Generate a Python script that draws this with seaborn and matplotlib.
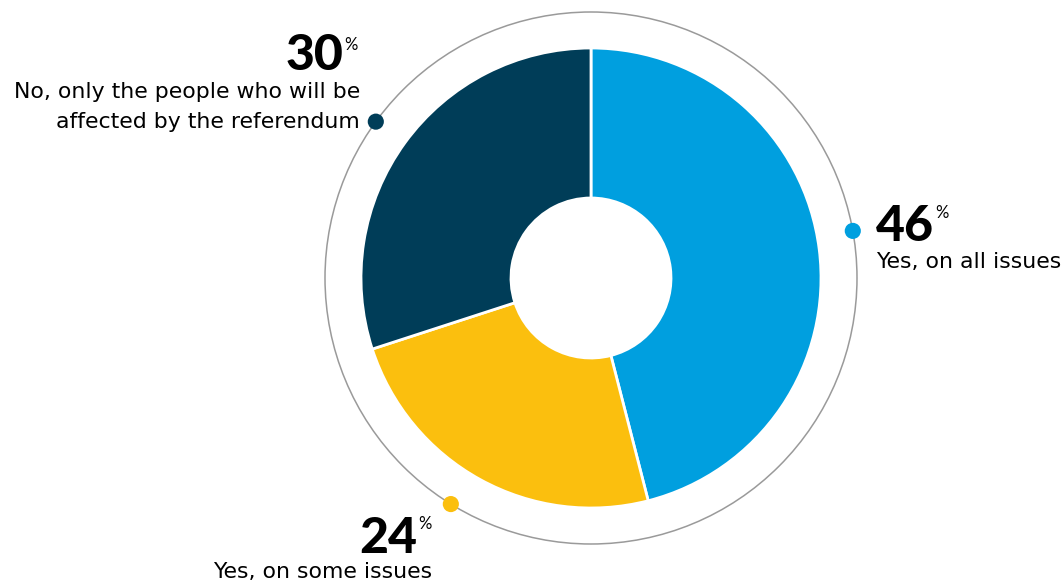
import numpy as np
import pandas as pd
import seaborn as sns
import matplotlib.pyplot as plt
from matplotlib.patches import Circle

# data, clockwise from 12 o'clock
answers = ["Yes, on all issues", "Yes, on some issues",
           "No, only the people who will be\naffected by the referendum"]
shares = [46, 24, 30]
colors = ["#009FDF", "#FBBF0E", "#003D58"]

df = pd.DataFrame({"answer": answers, "share": shares, "color": colors})

sns.set_theme(style="white")
plt.rcParams['font.family'] = ['DejaVu Sans']

W, H = 1062, 583
fig = plt.figure(figsize=(W / 100, H / 100), dpi=100)
ax = fig.add_axes([0, 0, 1, 1])


def Y(y):
    # pixel row from top -> data y
    return H - y


cx, cy = 591, Y(278)
r_out, r_in, r_ring = 230, 80, 266

ax.pie(df["share"], colors=df["color"], startangle=90, counterclock=False,
       center=(cx, cy), radius=r_out,
       wedgeprops=dict(width=r_out - r_in, edgecolor="white", linewidth=2))

# thin outer ring
ax.add_patch(Circle((cx, cy), r_ring, fill=False, edgecolor="#9a9a9a", lw=1.1, zorder=0))

# dots on the ring near slice midpoints (small designer nudges)
nudge = np.array([3.0, -3.0, 0.0])
cum = np.cumsum(df["share"]) - df["share"] / 2
ang = np.deg2rad(90 - cum / df["share"].sum() * 360 + nudge)
ax.scatter(cx + r_ring * np.cos(ang), cy + r_ring * np.sin(ang),
           s=135, c=df["color"], zorder=5, linewidths=0)

ax.set_xlim(0, W)
ax.set_ylim(0, H)
ax.set_aspect("equal")
ax.axis("off")

num_kw = dict(fontsize=36, fontweight=900, color="black",
              family=["Lato", "Liberation Sans", "DejaVu Sans"])
pct_kw = dict(fontsize=12, fontweight="normal", color="black",
              family=["Lato", "DejaVu Sans"])
lab_kw = dict(fontsize=15.8, color="black")

fig.canvas.draw()
renderer = fig.canvas.get_renderer()
inv = ax.transData.inverted()


def right_group(x_right, num_base, pct_top, lines, lab_right, lab_bases, value):
    p = ax.text(x_right, Y(pct_top), "%", ha="right", va="top", **pct_kw)
    ext = p.get_window_extent(renderer)
    x0 = inv.transform((ext.x0, ext.y0))[0]
    ax.text(x0 - 1, Y(num_base), str(value), ha="right", va="baseline", **num_kw)
    for line, b in zip(lines, lab_bases):
        ax.text(lab_right, Y(b), line, ha="right", va="baseline", **lab_kw)


def left_group(x_left, num_base, pct_top, lines, lab_bases, value):
    n = ax.text(x_left, Y(num_base), str(value), ha="left", va="baseline", **num_kw)
    ext = n.get_window_extent(renderer)
    x1 = inv.transform((ext.x1, ext.y1))[0]
    ax.text(x1 + 1, Y(pct_top), "%", ha="left", va="top", **pct_kw)
    for line, b in zip(lines, lab_bases):
        ax.text(x_left, Y(b), line, ha="left", va="baseline", **lab_kw)


left_group(876, 241, 205, df["answer"][0].split("\n"), [268], df["share"][0])
right_group(432, 553, 516, df["answer"][1].split("\n"), 432, [578], df["share"][1])
right_group(358, 70, 37, df["answer"][2].split("\n"), 360, [98, 128], df["share"][2])

fig.savefig("out.png", dpi=100)
